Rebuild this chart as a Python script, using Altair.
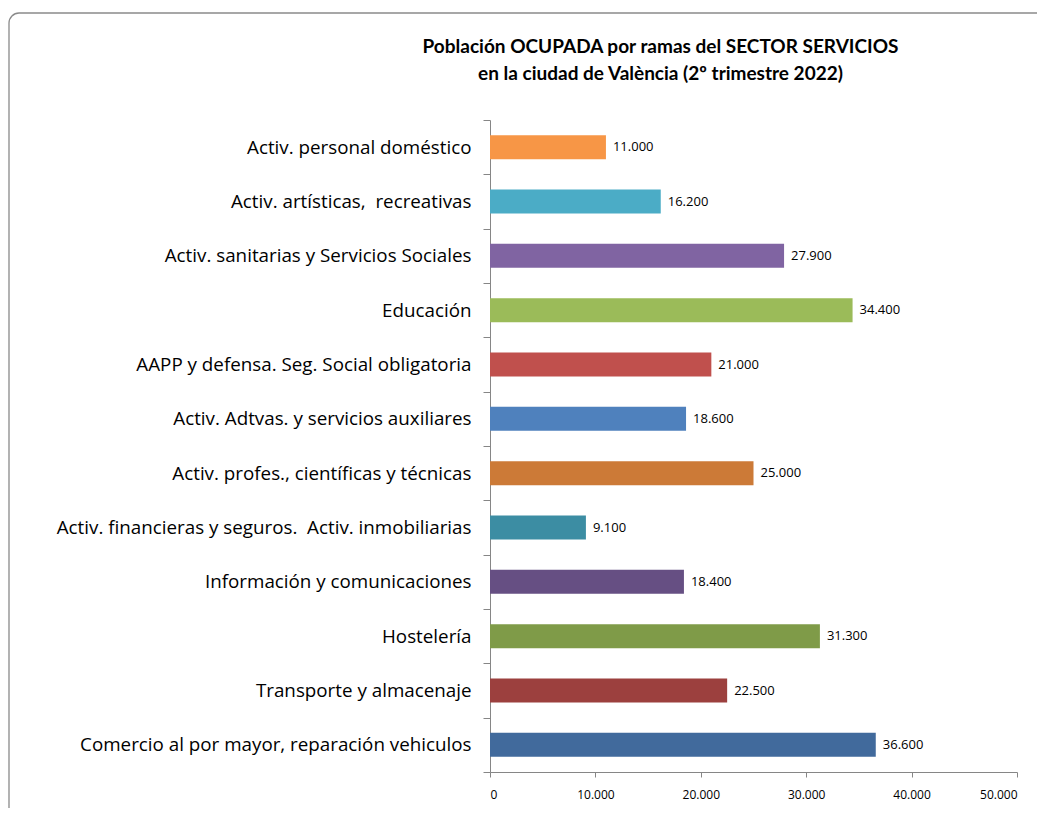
import altair as alt
import pandas as pd

categories = [
    "Activ. personal doméstico",
    "Activ. artísticas, \u00a0recreativas",
    "Activ. sanitarias y Servicios Sociales",
    "Educación",
    "AAPP y defensa. Seg. Social obligatoria",
    "Activ. Adtvas. y servicios auxiliares",
    "Activ. profes., científicas y técnicas",
    "Activ. financieras y seguros. \u00a0Activ. inmobiliarias",
    "Información y comunicaciones",
    "Hostelería",
    "Transporte y almacenaje",
    "Comercio al por mayor, reparación vehiculos",
]
values = [11000, 16200, 27900, 34400, 21000, 18600, 25000, 9100, 18400, 31300, 22500, 36600]
colors = [
    "#F79646", "#4BACC6", "#8064A2", "#9BBB59", "#C0504D", "#4F81BD",
    "#CC7A37", "#3C8DA3", "#664F83", "#7F9B48", "#9C403E", "#416A9C",
]
x_ticks = [0, 10000, 20000, 30000, 40000, 50000]

df = pd.DataFrame({"rama": categories, "valor": values, "color": colors})

FONT = "Open Sans"

y_enc = alt.Y(
    "rama:N",
    sort=categories,
    title=None,
    scale=alt.Scale(paddingInner=0, paddingOuter=0),
    axis=alt.Axis(
        tickBand="extent",
        tickSize=7,
        tickColor="#868686",
        domainColor="#868686",
        labelFontSize=18.8,
        labelFont=FONT,
        labelColor="#000000",
        labelPadding=12,
        labelLimit=600,
    ),
)
x_enc = alt.X(
    "valor:Q",
    title=None,
    scale=alt.Scale(domain=[0, 50000], nice=False),
    axis=alt.Axis(
        values=x_ticks,
        grid=False,
        tickSize=5,
        tickColor="#868686",
        domainColor="#868686",
        labelFontSize=12,
        labelFont=FONT,
        labelColor="#000000",
        labelPadding=12,
        labelExpr="replace(format(datum.value, ','), ',', '.')",
    ),
)

base = alt.Chart(df)

bars = base.mark_bar(size=24).encode(
    x=x_enc,
    y=y_enc,
    color=alt.Color("color:N", scale=None),
)

labels = base.transform_calculate(
    lab="replace(format(datum.valor, ','), ',', '.')"
).mark_text(align="left", baseline="middle", dx=7, fontSize=13, font=FONT, color="#000000").encode(
    x="valor:Q",
    y=alt.Y("rama:N", sort=categories),
    text="lab:N",
)

border = alt.Chart(pd.DataFrame({"a": [0]})).mark_rect(
    fillOpacity=0, stroke="#8A8A8A", strokeWidth=1.3, cornerRadius=10
).encode(
    x=alt.value(-481),
    x2=alt.value(600),
    y=alt.value(-107),
    y2=alt.value(760),
)

chart = alt.layer(border, bars, labels).properties(
    width=527,
    height=652,
    autosize="none",
    padding={"left": 482, "top": 112, "right": 20, "bottom": 36},
    title=alt.Title(
        ["Población OCUPADA por ramas del SECTOR SERVICIOS", "en la ciudad de València (2º trimestre 2022)"],
        fontSize=19,
        fontWeight="bold",
        font="Lato",
        color="#000000",
        anchor="middle",
        frame="group",
        dx=-93,
        offset=-72,
        lineHeight=27,
    ),
).configure(background="white").configure_view(stroke=None)

chart.save("out.html", embed_options={"renderer": "svg", "actions": False})
